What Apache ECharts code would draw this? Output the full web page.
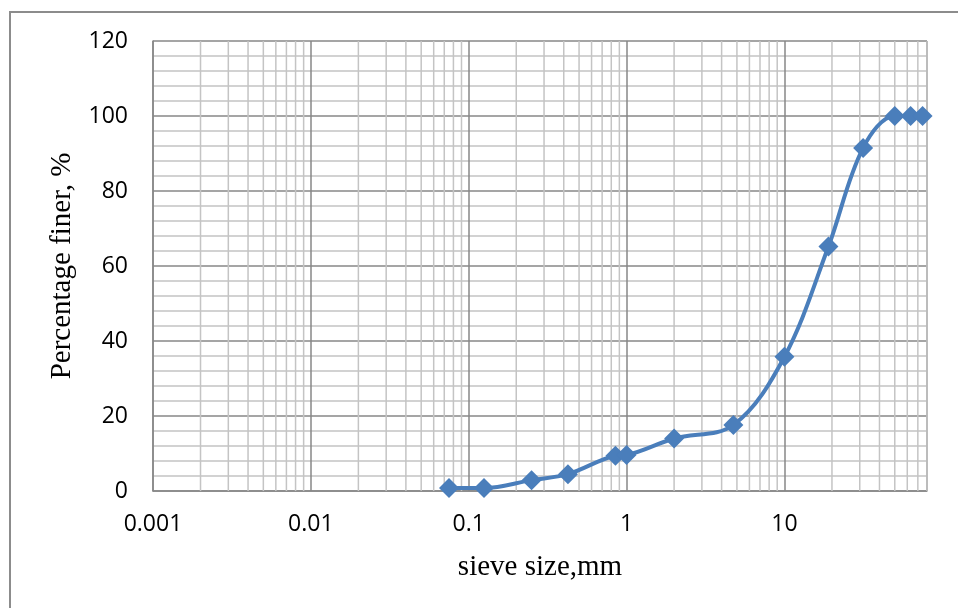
<!DOCTYPE html>
<html>
<head>
<meta charset="utf-8">
<script src="https://cdn.jsdelivr.net/npm/echarts@6/dist/echarts.min.js"></script>
<style>
  html, body { margin: 0; padding: 0; background: #fff; }
  #chart { width: 958px; height: 608px; }
</style>
</head>
<body>
<div id="chart"></div>
<script>
// Sieve analysis: particle size (mm) vs percentage passing
const sieveSize = [0.075, 0.125, 0.25, 0.425, 0.85, 1, 2, 4.75, 10, 19, 31.5, 50, 63, 75];
const percentFiner = [0.8, 0.8, 2.9, 4.5, 9.4, 9.6, 14, 17.6, 35.8, 65.2, 91.5, 100, 100, 100];
const xTickLabels = ['0.001', '0.01', '0.1', '1', '10'];
const yTickLabels = ['0', '20', '40', '60', '80', '100', '120'];

// Intermediate log gridlines (2..9 within each decade, up to the axis end at 80)
const decades = [0.001, 0.01, 0.1, 1, 10];
const minorX = [];
decades.forEach(d => {
  for (let k = 2; k <= 9; k++) {
    const v = +(d * k).toPrecision(3);
    if (v <= 80) minorX.push(v);
  }
});

const chart = echarts.init(document.getElementById('chart'));
const blue = '#4a7ebb';
const major = '#878787';
const minor = '#c4c4c4';

chart.setOption({
  animation: false,
  graphic: [{
    type: 'rect',
    shape: { x: 10, y: 12, width: 1000, height: 700 },
    style: { fill: 'none', stroke: '#8c8c8c', lineWidth: 2 },
    silent: true
  }],
  grid: { left: 153, top: 41, right: 31, bottom: 117, containLabel: false },
  xAxis: {
    type: 'log',
    logBase: 10,
    min: 0.001,
    max: 80,
    name: 'sieve size,mm',
    nameLocation: 'middle',
    nameGap: 62,
    nameTextStyle: { fontFamily: 'Liberation Serif', fontSize: 29, color: '#000' },
    axisLine: { show: true, lineStyle: { color: major, width: 1.5 } },
    axisTick: { show: false },
    axisLabel: {
      fontFamily: 'Open Sans', fontSize: 23, color: '#000', margin: 22,
      showMaxLabel: false,
      formatter: v => {
        const s = xTickLabels.find(t => Math.abs(Math.log10(+t) - Math.log10(v)) < 1e-6);
        return s || '';
      }
    },
    splitLine: { show: true, lineStyle: { color: major, width: 1.5 } }
  },
  yAxis: {
    type: 'value',
    min: 0,
    max: 120,
    interval: 20,
    name: 'Percentage finer, %',
    nameLocation: 'middle',
    nameRotate: 90,
    nameGap: 76,
    nameTextStyle: { fontFamily: 'Liberation Serif', fontSize: 29, color: '#000' },
    axisLine: { show: true, lineStyle: { color: major, width: 1.5 } },
    axisTick: { show: false },
    axisLabel: {
      fontFamily: 'Open Sans', fontSize: 23, color: '#000', margin: 25,
      formatter: (v, i) => yTickLabels[i]
    },
    splitLine: { show: true, lineStyle: { color: major, width: 1.5 } },
    minorTick: { show: false, splitNumber: 5 },
    minorSplitLine: { show: true, lineStyle: { color: minor, width: 1.5 } }
  },
  series: [
    {
      // minor vertical gridlines placed through the log x scale
      type: 'custom',
      silent: true,
      z: 1,
      data: minorX,
      encode: { x: 0 },
      renderItem: (params, api) => {
        const v = api.value(0);
        const p0 = api.coord([v, 0]);
        const p1 = api.coord([v, 120]);
        return {
          type: 'line',
          shape: { x1: p0[0], y1: p0[1], x2: p1[0], y2: p1[1] },
          style: { stroke: minor, lineWidth: 1.5 }
        };
      }
    },
    {
      type: 'line',
      data: sieveSize.map((x, i) => [x, percentFiner[i]]),
      smooth: 0.35,
      symbol: 'diamond',
      symbolSize: 20,
      lineStyle: { color: blue, width: 4 },
      itemStyle: { color: blue },
      z: 5
    }
  ]
});
</script>
</body>
</html>
